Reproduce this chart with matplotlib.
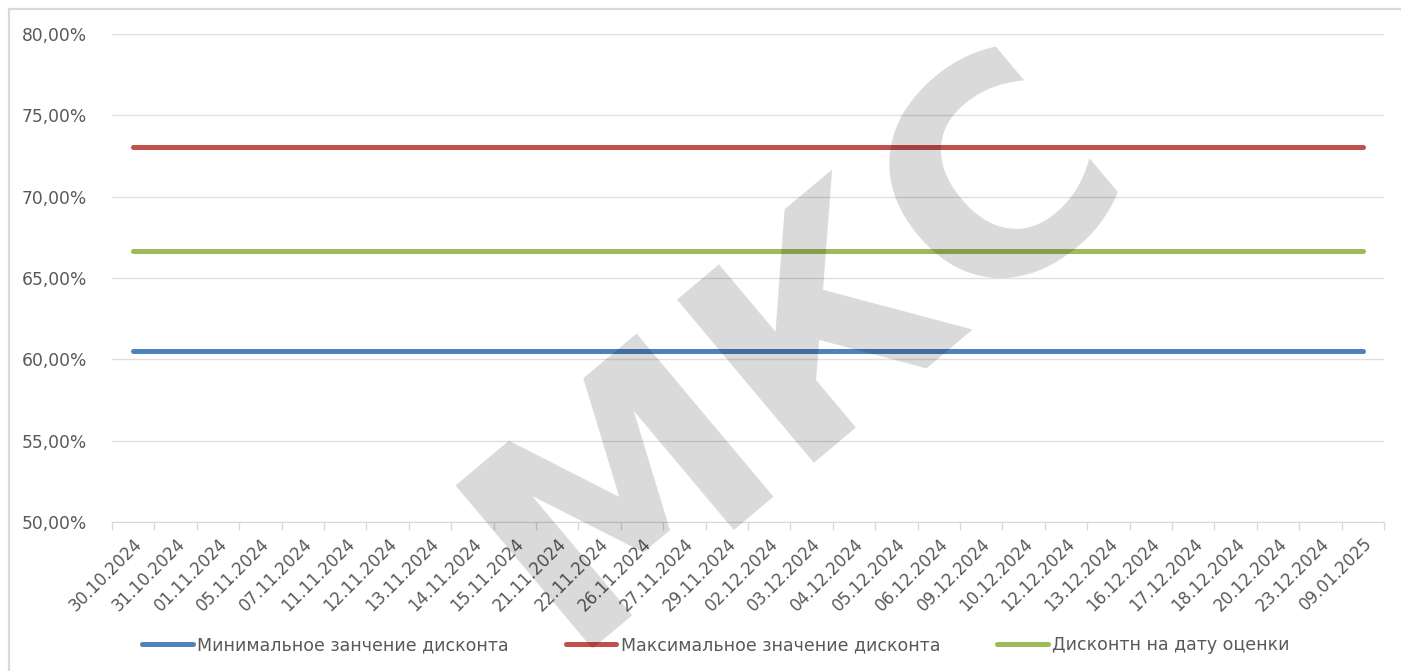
import matplotlib
matplotlib.use("Agg")
import matplotlib.pyplot as plt
from matplotlib.patches import Rectangle
from matplotlib.ticker import FuncFormatter
import numpy as np

# даты оценки
dates = ["30.10.2024", "31.10.2024", "01.11.2024", "05.11.2024", "07.11.2024",
         "11.11.2024", "12.11.2024", "13.11.2024", "14.11.2024", "15.11.2024",
         "21.11.2024", "22.11.2024", "26.11.2024", "27.11.2024", "29.11.2024",
         "02.12.2024", "03.12.2024", "04.12.2024", "05.12.2024", "06.12.2024",
         "09.12.2024", "10.12.2024", "12.12.2024", "13.12.2024", "16.12.2024",
         "17.12.2024", "18.12.2024", "20.12.2024", "23.12.2024", "09.01.2025"]

min_discount = [0.6050, 0.6050, 0.6050, 0.6050, 0.6050, 0.6050, 0.6050, 0.6050, 0.6050, 0.6050,
                0.6050, 0.6050, 0.6050, 0.6050, 0.6050, 0.6050, 0.6050, 0.6050, 0.6050, 0.6050,
                0.6050, 0.6050, 0.6050, 0.6050, 0.6050, 0.6050, 0.6050, 0.6050, 0.6050, 0.6050]
max_discount = [0.7305, 0.7305, 0.7305, 0.7305, 0.7305, 0.7305, 0.7305, 0.7305, 0.7305, 0.7305,
                0.7305, 0.7305, 0.7305, 0.7305, 0.7305, 0.7305, 0.7305, 0.7305, 0.7305, 0.7305,
                0.7305, 0.7305, 0.7305, 0.7305, 0.7305, 0.7305, 0.7305, 0.7305, 0.7305, 0.7305]
cur_discount = [0.6667, 0.6667, 0.6667, 0.6667, 0.6667, 0.6667, 0.6667, 0.6667, 0.6667, 0.6667,
                0.6667, 0.6667, 0.6667, 0.6667, 0.6667, 0.6667, 0.6667, 0.6667, 0.6667, 0.6667,
                0.6667, 0.6667, 0.6667, 0.6667, 0.6667, 0.6667, 0.6667, 0.6667, 0.6667, 0.6667]

series_names = ["Минимальное занчение дисконта",
                "Максимальное значение дисконта",
                "Дисконтн на дату оценки"]
series_colors = ["#4f81bd", "#c0504d", "#9bbb59"]

plt.rcParams['font.family'] = ['DejaVu Sans']
text_color = "#595959"
grid_color = "#d9d9d9"

W, H = 1401, 671
fig = plt.figure(figsize=(W / 100, H / 100), dpi=100)
fig.patch.set_facecolor("white")

# рамка области диаграммы
fig.patches.append(Rectangle((9 / W, -0.05), 1.2, 1 - 9 / H + 0.05,
                             transform=fig.transFigure, fill=False,
                             ec=grid_color, lw=1.6, zorder=0))

ax = fig.add_axes([112 / W, 1 - 522 / H, (1384 - 112) / W, (522 - 34) / H])
x = np.arange(len(dates))

lines = []
for vals, name, col in zip([min_discount, max_discount, cur_discount], series_names, series_colors):
    ln, = ax.plot(x, vals, color=col, lw=3.6, solid_capstyle="round", label=name, zorder=3)
    lines.append(ln)

ax.set_xlim(-0.5, len(dates) - 0.5)
ax.set_ylim(0.5, 0.8)
ax.set_yticks(np.arange(0.5, 0.8001, 0.05))
ax.yaxis.set_major_formatter(FuncFormatter(lambda v, p: f"{v * 100:.2f}%".replace(".", ",")))
ax.tick_params(axis="y", length=0, pad=18, labelsize=12.3, labelcolor=text_color)
ax.grid(axis="y", color="#e0e0e0", lw=1)
ax.set_axisbelow(True)

# деления между категориями, подписи по центру
ax.set_xticks(np.arange(-0.5, len(dates), 1))
ax.set_xticklabels([])
ax.tick_params(axis="x", which="major", length=6, color=grid_color, width=1)
ax.set_xticks(x, minor=True)
ax.set_xticklabels(dates, minor=True, rotation=45, ha="right", va="top",
                   rotation_mode="anchor", color=text_color, fontsize=12)
ax.tick_params(axis="x", which="minor", length=0, pad=9)

for s in ["left", "right", "top"]:
    ax.spines[s].set_visible(False)
ax.spines["bottom"].set_color(grid_color)

fig.legend(lines, series_names, loc="center", bbox_to_anchor=(716 / W, 1 - 645 / H),
           ncol=3, frameon=False, handlelength=2.9, handletextpad=0.25,
           columnspacing=3.3, prop={"size": 12.5}, labelcolor=text_color)

# водяной знак
fig.text(0.57, 0.48, "МКС", rotation=40, fontsize=210, fontweight="bold",
         color="black", alpha=0.15, ha="center", va="center", zorder=10)

fig.savefig("out.png", dpi=100)
